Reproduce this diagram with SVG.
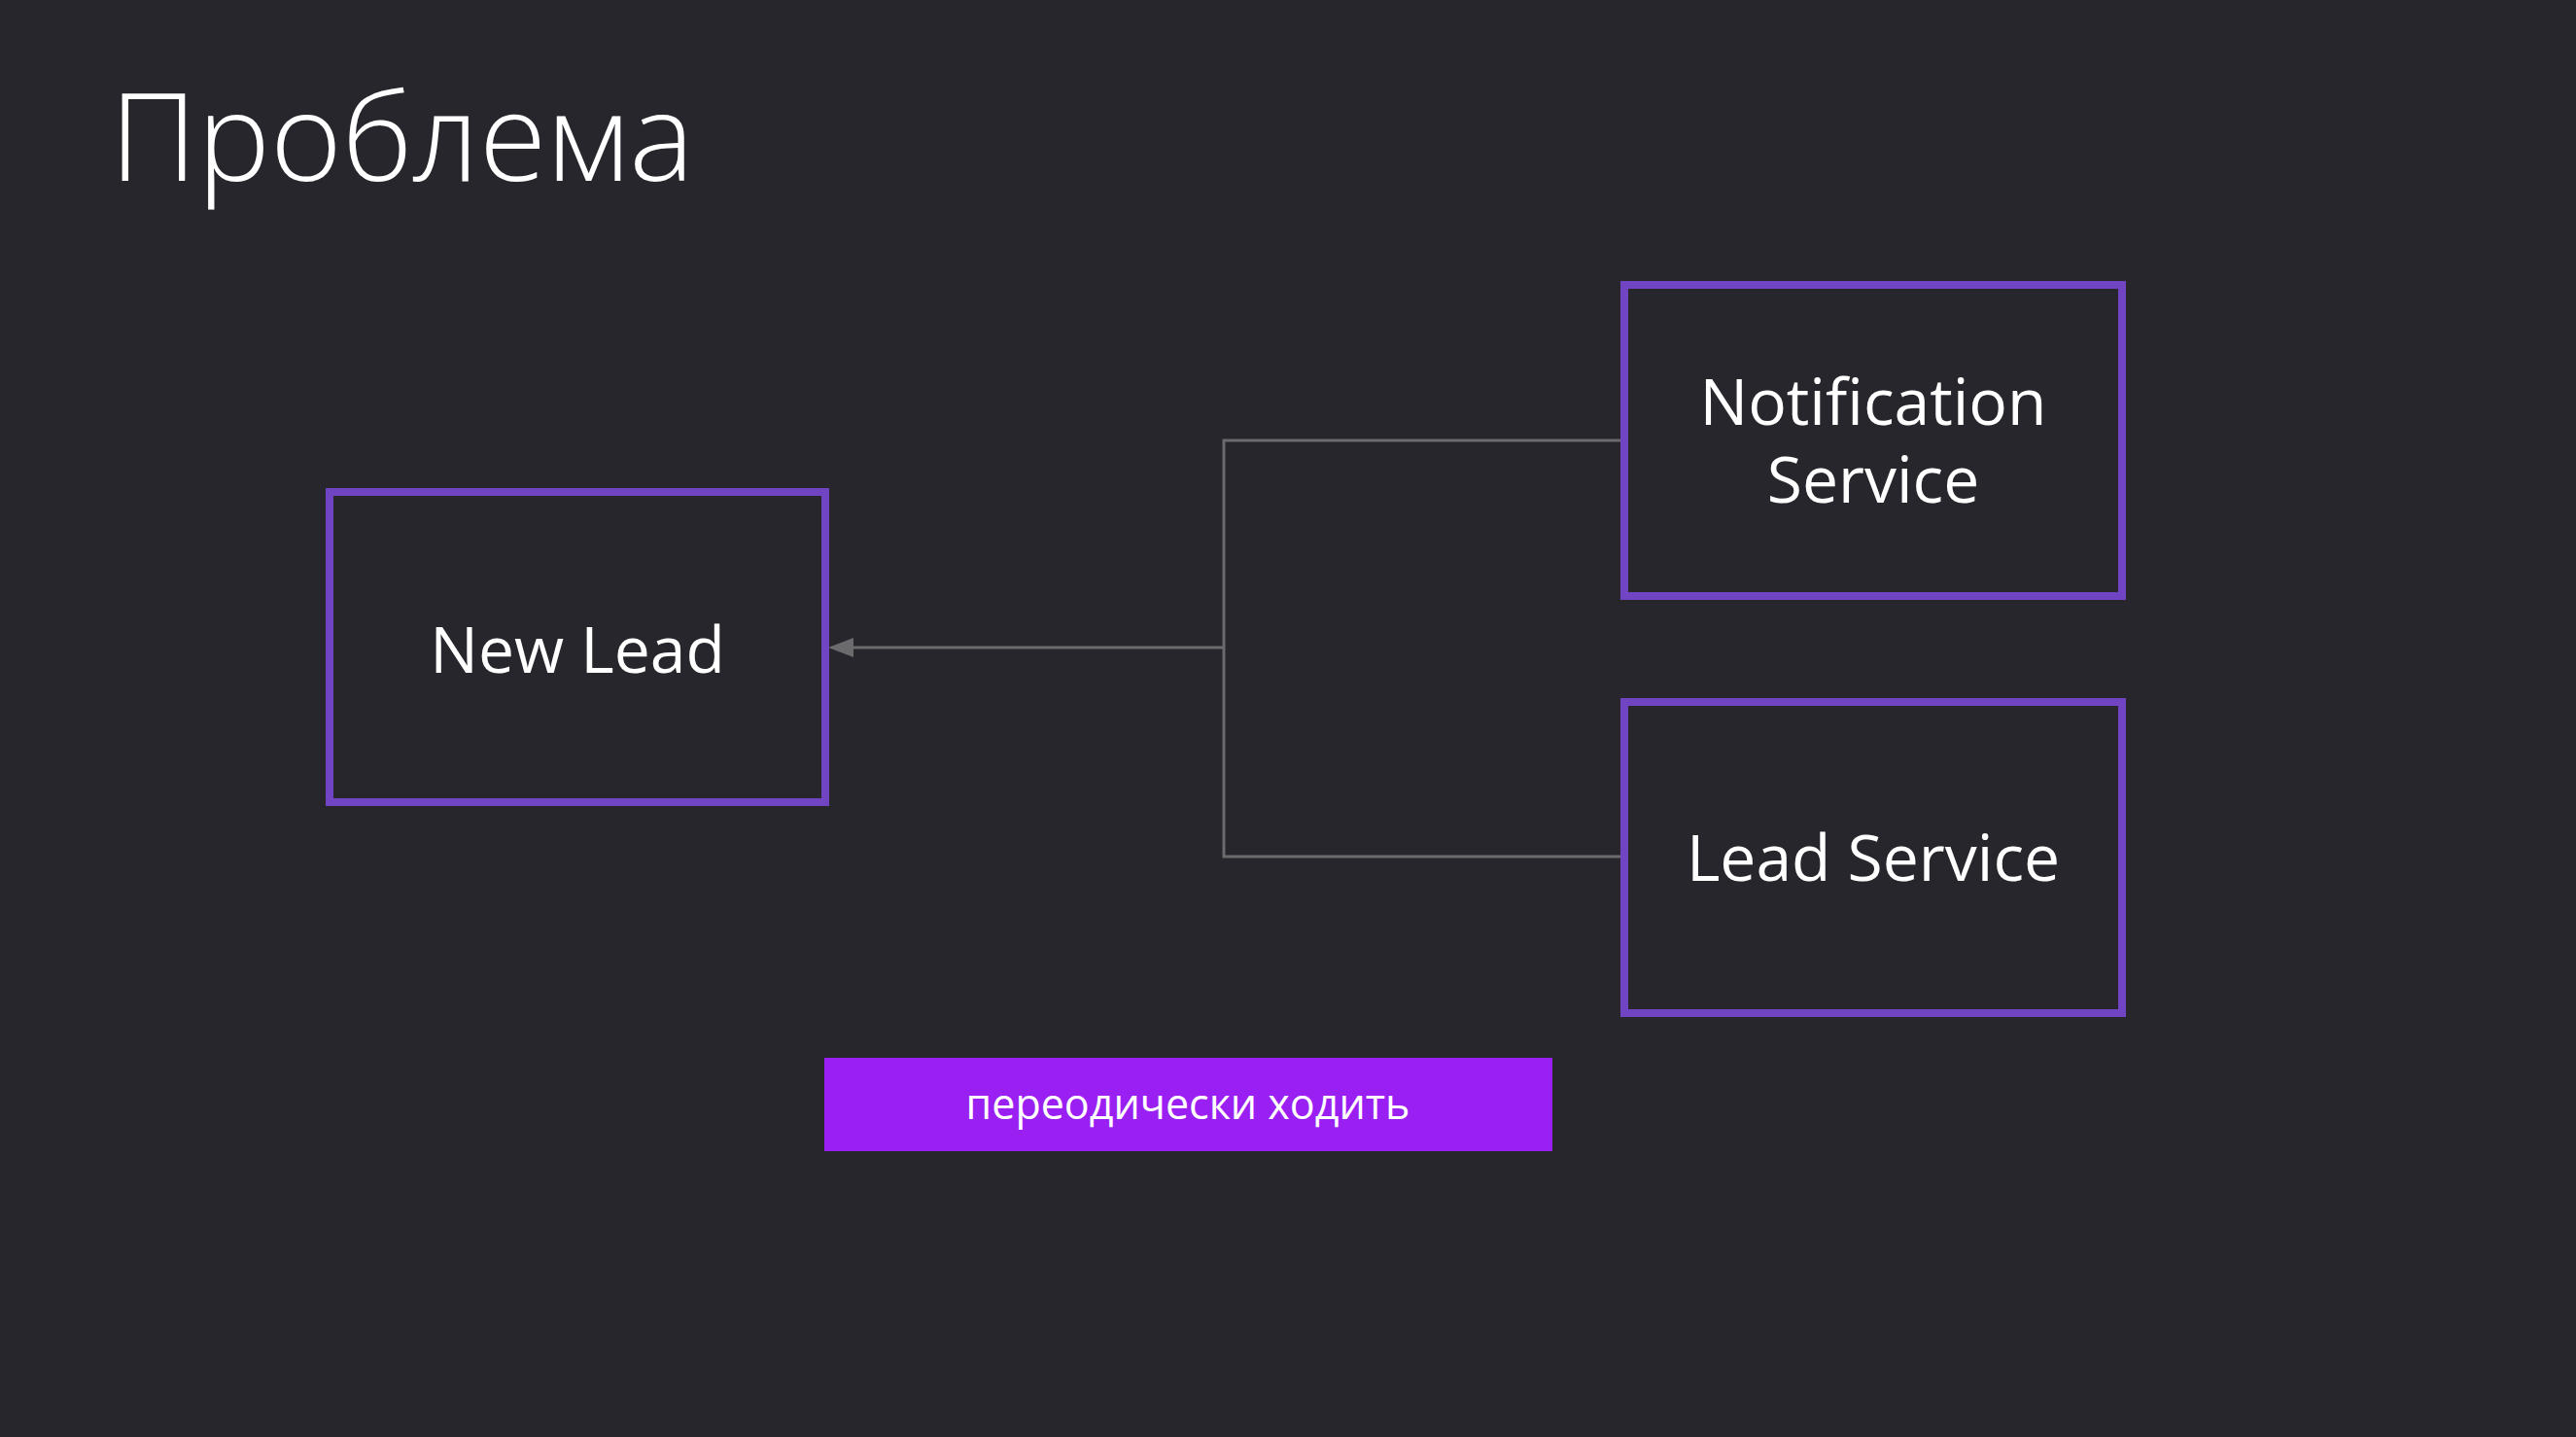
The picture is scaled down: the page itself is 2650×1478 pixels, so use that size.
<svg xmlns="http://www.w3.org/2000/svg" width="2650" height="1478" viewBox="0 0 2650 1478">
<defs>
<style>
.bg{fill:#27262c}
.box{fill:#27262c;stroke:#7044c2;stroke-width:8}
.lbl{font-family:"Open Sans","Noto Sans","DejaVu Sans",sans-serif;font-size:66px;fill:#ffffff;text-anchor:middle}
.conn{fill:none;stroke:#6b6b6e;stroke-width:3}
.title{font-family:"Open Sans","Noto Sans","DejaVu Sans",sans-serif;font-weight:300;font-size:126px;fill:#ffffff}
.btn{fill:#9a1ff2}
.btnt{font-family:"Open Sans","Noto Sans","DejaVu Sans",sans-serif;font-size:43px;fill:#ffffff;text-anchor:middle}
</style>
</defs>
<rect class="bg" x="0" y="0" width="2650" height="1478"/>
<text class="title" x="113" y="186">Проблема</text>
<g id="connectors">
<path class="conn" d="M1670,453 H1259 V881 H1670"/>
<path class="conn" d="M1259,666 H876"/>
<path d="M852,666 L878,656 L878,676 Z" fill="#6b6b6e"/>
</g>
<g id="new-lead">
<rect class="box" x="339" y="506" width="510" height="319"/>
<text class="lbl" x="594" y="692">New Lead</text>
</g>
<g id="notification-service">
<rect class="box" x="1671" y="293" width="512" height="320"/>
<text class="lbl" x="1927" y="437">Notification<tspan x="1927" dy="80">Service</tspan></text>
</g>
<g id="lead-service">
<rect class="box" x="1671" y="722" width="512" height="320"/>
<text class="lbl" x="1927" y="906">Lead Service</text>
</g>
<g id="periodic">
<rect class="btn" x="848" y="1088" width="749" height="96"/>
<text class="btnt" x="1222" y="1151">переодически ходить</text>
</g>
</svg>
